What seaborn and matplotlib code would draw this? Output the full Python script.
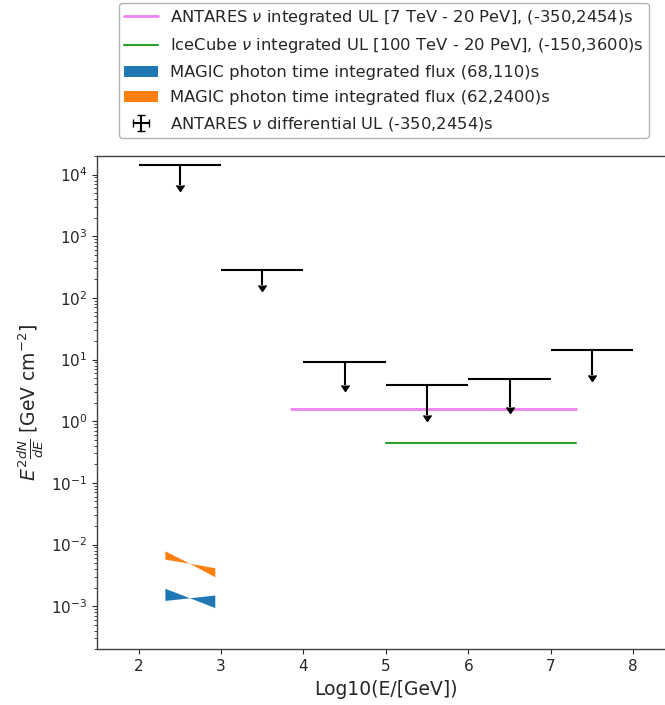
import numpy as np
import pandas as pd
import matplotlib
matplotlib.use("Agg")
import matplotlib.pyplot as plt
import seaborn as sns

# ---------------- data ----------------
# ANTARES differential upper limits (log10 E bin centres, half widths, values, arrow lengths)
diff_logE = [2.5, 3.5, 4.5, 5.5, 6.5, 7.5]
diff_halfwidth = [0.5, 0.5, 0.5, 0.5, 0.5, 0.5]
diff_ul = [1.42e4, 284.0, 9.25, 3.87, 4.84, 14.3]
diff_arrow = [7.35e3, 124.0, 5.42, 2.61, 3.14, 8.68]

# integrated upper limits (energy range in log10 E, value)
antares_int_logE = [3.845, 7.301]
antares_int_ul = [1.56, 1.56]
icecube_int_logE = [5.0, 7.301]
icecube_int_ul = [0.436, 0.436]

# MAGIC bowties (left edge, pivot, right edge)
magic_logE = [2.32, 2.62, 2.925]
magic1_upper = [1.95e-3, 1.37e-3, 1.52e-3]
magic1_lower = [1.24e-3, 1.37e-3, 9.5e-4]
magic2_upper = [7.9e-3, 4.97e-3, 4.2e-3]
magic2_lower = [5.8e-3, 4.97e-3, 3.0e-3]

labels = [
    r"ANTARES $\nu$ integrated UL [7 TeV - 20 PeV], (-350,2454)s",
    r"IceCube $\nu$ integrated UL [100 TeV - 20 PeV], (-150,3600)s",
    "MAGIC photon time integrated flux (68,110)s",
    "MAGIC photon time integrated flux (62,2400)s",
    r"ANTARES $\nu$ differential UL (-350,2454)s",
]
x_ticks = [2, 3, 4, 5, 6, 7, 8]

# ---------------- style ----------------
sns.set_style("ticks")
plt.rcParams.update({
    "font.family": ["DejaVu Sans"],
    "axes.edgecolor": "0.25",
    "axes.linewidth": 1.0,
    "xtick.major.size": 3.5,
    "ytick.major.size": 3.5,
    "xtick.minor.size": 2.0,
    "ytick.minor.size": 2.0,
    "xtick.major.width": 0.8,
    "ytick.major.width": 0.8,
    "ytick.minor.width": 0.6,
    "xtick.labelsize": 11,
    "ytick.labelsize": 11,
    "axes.labelsize": 13.5,
    "text.color": "0.15",
    "xtick.color": "0.15",
    "ytick.color": "0.15",
    "axes.labelcolor": "0.15",
    "mathtext.fontset": "dejavusans",
})

fig = plt.figure(figsize=(6.65, 7.05), dpi=100)
ax = fig.add_axes([0.1463, 0.079, 0.868, 0.6997])

df_ant = pd.DataFrame({"logE": antares_int_logE, "ul": antares_int_ul})
df_ice = pd.DataFrame({"logE": icecube_int_logE, "ul": icecube_int_ul})
sns.lineplot(data=df_ant, x="logE", y="ul", color="violet", lw=2, ax=ax)
sns.lineplot(data=df_ice, x="logE", y="ul", color="tab:green", lw=1.5, ax=ax)
line_ant = ax.lines[0]
line_ice = ax.lines[1]

p1 = ax.fill_between(magic_logE, magic1_lower, magic1_upper, color="tab:blue", lw=0)
p2 = ax.fill_between(magic_logE, magic2_lower, magic2_upper, color="tab:orange", lw=0)

eb = ax.errorbar(diff_logE, diff_ul, xerr=diff_halfwidth, yerr=diff_arrow,
                 uplims=True, fmt="none", ecolor="black", elinewidth=1.5)
for cl in eb.lines[1]:
    cl.set_color("black")
    cl.set_markerfacecolor("black")
    cl.set_markeredgecolor("black")
    cl.set_markersize(6)

ax.set_yscale("log")
ax.set_xlim(1.5, 8.5)
ax.set_ylim(2e-4, 2e4)
ax.set_xticks(x_ticks)
ax.set_xlabel("Log10(E/[GeV])")
ax.set_ylabel(r"$E^2\frac{dN}{dE}$ [GeV cm$^{-2}$]")

ax.legend([line_ant, line_ice, p1, p2, eb], labels,
          loc="upper left", bbox_to_anchor=(0.179, 0.9957),
          bbox_transform=fig.transFigure, borderaxespad=0,
          frameon=True, fontsize=11.8, handlelength=2.1, handletextpad=0.75,
          handleheight=0.7, labelspacing=0.6, borderpad=0.28,
          edgecolor="0.7", fancybox=True, framealpha=1)

fig.savefig("out.png", dpi=100)
